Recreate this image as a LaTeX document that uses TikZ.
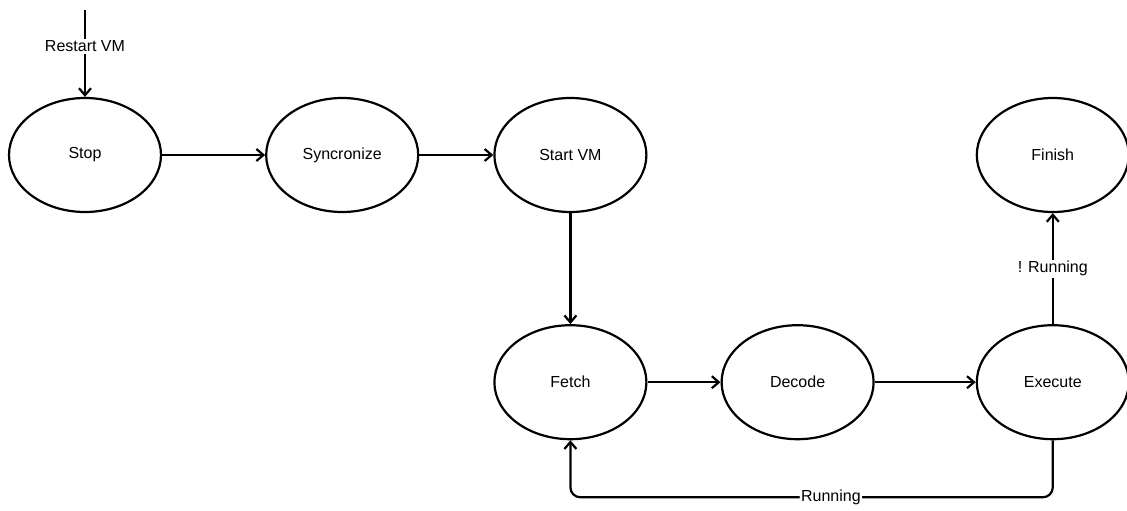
\documentclass[tikz,border=0pt]{standalone}
\usepackage{fontspec}
\setmainfont{Liberation Sans}
\usepackage{tikz}
\usetikzlibrary{positioning,arrows.meta,shapes.geometric}

\begin{document}
\begin{tikzpicture}[x=1pt, y=1pt,
  state/.style={draw, ellipse, line width=2.2pt, minimum width=152pt, minimum height=114pt,
    inner sep=0pt, font=\fontsize{16}{18}\selectfont},
  arr/.style={-{Straight Barb[length=7pt, width=12pt, line width=2.2pt]}, line width=2.2pt},
  lbl/.style={fill=white, inner sep=1.5pt, font=\fontsize{16}{18}\selectfont}]
\useasboundingbox (0,0) rectangle (1127,-511);
% top row
\node[state] (stop) at (85,-155) {Stop};
\node[state, right=103pt of stop] (sync) {Syncronize};
\node[state, right=74pt of sync] (start) {Start VM};
% bottom row
\node[state, below=111pt of start] (fetch) {Fetch};
\node[state, right=73pt of fetch] (decode) {Decode};
\node[state, right=101pt of decode] (execute) {Execute};
\node[state, above=111pt of execute] (finish) {Finish};
\coordinate (entry) at (85,-10);

\draw[arr] (entry) -- node[lbl, pos=0.42] {Restart VM} (stop);
\draw[arr] (stop) -- (sync);
\draw[arr] (sync) -- (start);
\draw[arr] (start) -- (fetch);
\draw[arr] (fetch) -- (decode);
\draw[arr] (decode) -- (execute);
\draw[arr] (execute) -- node[lbl] {! Running} (finish);
\draw[arr, rounded corners=10pt] (execute.south) -- ++(0,-57) -| node[lbl, pos=0.23] {Running} (fetch.south);
\end{tikzpicture}
\end{document}
